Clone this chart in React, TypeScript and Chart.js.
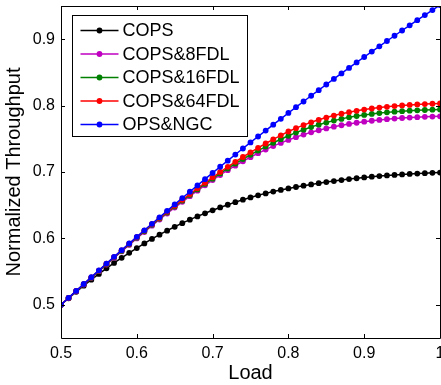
import React, { useEffect, useRef } from "react";
import { Chart, registerables } from "chart.js";

Chart.register(...registerables);

const loads = [
  0.5, 0.51, 0.52, 0.53, 0.54, 0.55, 0.56, 0.57, 0.58, 0.59,
  0.6, 0.61, 0.62, 0.63, 0.64, 0.65, 0.66, 0.67, 0.68, 0.69,
  0.7, 0.71, 0.72, 0.73, 0.74, 0.75, 0.76, 0.77, 0.78, 0.79,
  0.8, 0.81, 0.82, 0.83, 0.84, 0.85, 0.86, 0.87, 0.88, 0.89,
  0.9, 0.91, 0.92, 0.93, 0.94, 0.95, 0.96, 0.97, 0.98, 0.99, 1.0,
];

const cops = [
  0.5, 0.5099, 0.5195, 0.5288, 0.5378, 0.5465, 0.5549, 0.563, 0.5708, 0.5783,
  0.5855, 0.5925, 0.5992, 0.6056, 0.6117, 0.6175, 0.623, 0.6282, 0.6331, 0.6378,
  0.6423, 0.6466, 0.6507, 0.6546, 0.6583, 0.6617, 0.6649, 0.6678, 0.6705, 0.673,
  0.6753, 0.6774, 0.6794, 0.6813, 0.6831, 0.6848, 0.6864, 0.6879, 0.6893, 0.6906,
  0.6918, 0.6929, 0.6939, 0.6948, 0.6956, 0.6964, 0.6971, 0.6977, 0.6982, 0.6987, 0.6991,
];

const cops8 = [
  0.5, 0.5102, 0.5204, 0.5305, 0.5406, 0.5506, 0.5606, 0.5705, 0.5804, 0.5902,
  0.6, 0.6096, 0.6191, 0.6284, 0.6375, 0.6464, 0.6551, 0.6636, 0.6719, 0.68,
  0.6879, 0.6955, 0.7027, 0.7096, 0.7162, 0.7224, 0.7283, 0.7338, 0.739, 0.7438,
  0.7483, 0.7525, 0.7563, 0.7598, 0.7629, 0.7657, 0.7682, 0.7704, 0.7724, 0.7742,
  0.7758, 0.7772, 0.7784, 0.7795, 0.7805, 0.7813, 0.782, 0.7826, 0.7831, 0.7835, 0.7838,
];

const cops16 = [
  0.5, 0.5103, 0.5206, 0.5308, 0.541, 0.5511, 0.5612, 0.5712, 0.5812, 0.5912,
  0.6011, 0.6108, 0.6204, 0.6298, 0.639, 0.648, 0.6568, 0.6654, 0.6738, 0.682,
  0.69, 0.6978, 0.7053, 0.7125, 0.7194, 0.726, 0.7323, 0.7383, 0.744, 0.7494,
  0.7545, 0.7593, 0.7637, 0.7677, 0.7713, 0.7745, 0.7774, 0.78, 0.7823, 0.7843,
  0.786, 0.7874, 0.7887, 0.7898, 0.7908, 0.7916, 0.7923, 0.7929, 0.7934, 0.7938, 0.7941,
];

const cops64 = [
  0.5, 0.5104, 0.5208, 0.5311, 0.5414, 0.5516, 0.5618, 0.5719, 0.582, 0.592,
  0.602, 0.6118, 0.6214, 0.6309, 0.6402, 0.6493, 0.6582, 0.6669, 0.6754, 0.6838,
  0.692, 0.7, 0.7078, 0.7153, 0.7226, 0.7296, 0.7364, 0.7429, 0.7492, 0.7552,
  0.761, 0.766, 0.7706, 0.7748, 0.7786, 0.782, 0.785, 0.7877, 0.7901, 0.7922,
  0.794, 0.7956, 0.797, 0.7982, 0.7993, 0.8002, 0.801, 0.8017, 0.8023, 0.8028, 0.8032,
];

const opsNgc = [
  0.5, 0.5105, 0.5209, 0.5313, 0.5416, 0.5519, 0.5621, 0.5722, 0.5823, 0.5923,
  0.6023, 0.6122, 0.622, 0.6318, 0.6415, 0.6512, 0.6608, 0.6703, 0.6798, 0.6892,
  0.6986, 0.7079, 0.7171, 0.7263, 0.7354, 0.7445, 0.7535, 0.7624, 0.7713, 0.7801,
  0.7889, 0.7976, 0.8062, 0.8148, 0.8233, 0.8318, 0.8402, 0.8485, 0.8568, 0.865,
  0.8732, 0.8813, 0.8893, 0.8973, 0.9052, 0.9131, 0.9209, 0.9286, 0.9363, 0.9439, 0.9515,
];

const seriesNames = ["COPS", "COPS&8FDL", "COPS&16FDL", "COPS&64FDL", "OPS&NGC"];
const seriesValues = [cops, cops8, cops16, cops64, opsNgc];
const seriesColors = ["#000000", "#c000c0", "#008000", "#ff0000", "#0000ff"];

const xTicks = [0.5, 0.6, 0.7, 0.8, 0.9, 1.0];
const yTicks = [0.5, 0.6, 0.7, 0.8, 0.9];

const FONT = "'Liberation Sans', Arial, Helvetica, sans-serif";

const boxPlugin = {
  id: "matlabBox",
  afterDatasetsDraw(chart: any) {
    const { ctx, chartArea } = chart;
    const { left, right, top, bottom } = chartArea;
    const xs = chart.scales.x;
    const ys = chart.scales.y;
    ctx.save();
    ctx.strokeStyle = "#000";
    ctx.lineWidth = 1;
    ctx.beginPath();
    ctx.rect(Math.round(left) + 0.5, Math.round(top) + 0.5, Math.round(right - left), Math.round(bottom - top));
    ctx.stroke();
    const tl = 4;
    ctx.beginPath();
    xTicks.forEach((v) => {
      const px = Math.round(xs.getPixelForValue(v)) + 0.5;
      ctx.moveTo(px, bottom);
      ctx.lineTo(px, bottom - tl);
      ctx.moveTo(px, top);
      ctx.lineTo(px, top + tl);
    });
    yTicks.forEach((v) => {
      const py = Math.round(ys.getPixelForValue(v)) + 0.5;
      ctx.moveTo(left, py);
      ctx.lineTo(left + tl, py);
      ctx.moveTo(right, py);
      ctx.lineTo(right - tl, py);
    });
    ctx.stroke();

    // legend box
    const bx = Math.round(left) + 11 + 0.5;
    const by = Math.round(top) + 9 + 0.5;
    const bw = 175;
    const bh = 121;
    ctx.fillStyle = "#fff";
    ctx.fillRect(bx, by, bw, bh);
    ctx.strokeRect(bx, by, bw, bh);
    ctx.font = `18px ${FONT}`;
    ctx.textBaseline = "middle";
    ctx.textAlign = "left";
    chart.data.datasets.forEach((ds: any, i: number) => {
      const ry = by + 15 + i * 23.5;
      ctx.strokeStyle = ds.borderColor;
      ctx.lineWidth = 1.5;
      ctx.beginPath();
      ctx.moveTo(bx + 8, ry);
      ctx.lineTo(bx + 46, ry);
      ctx.stroke();
      ctx.fillStyle = ds.borderColor;
      ctx.beginPath();
      ctx.arc(bx + 27, ry, 2.9, 0, Math.PI * 2);
      ctx.fill();
      ctx.fillStyle = "#000";
      ctx.fillText(ds.label, bx + 50, ry + 1);
    });
    ctx.restore();
  },
};

export default function App() {
  const ref = useRef<HTMLCanvasElement | null>(null);
  useEffect(() => {
    if (!ref.current) return;
    const datasets = seriesNames.map((name, i) => ({
      label: name,
      data: loads.map((x, j) => ({ x, y: seriesValues[i][j] })),
      borderColor: seriesColors[i],
      backgroundColor: seriesColors[i],
      pointBackgroundColor: seriesColors[i],
      pointBorderWidth: 0,
      pointRadius: 2.9,
      borderWidth: 1.5,
      tension: 0,
      order: seriesNames.length - 1 - i,
    }));
    const chart = new Chart(ref.current, {
      type: "line",
      data: { datasets },
      plugins: [boxPlugin],
      options: {
        animation: false,
        responsive: false,
        maintainAspectRatio: false,
        layout: { padding: { top: 6, right: 5, left: 0, bottom: 0 } },
        plugins: { legend: { display: false }, tooltip: { enabled: false } },
        scales: {
          x: {
            type: "linear",
            min: 0.5,
            max: 1,
            afterBuildTicks: (s: any) => {
              s.ticks = xTicks.map((v) => ({ value: v }));
            },
            afterFit: (s: any) => {
              s.height = 47;
              s.paddingLeft = 0;
              s.paddingRight = 0;
            },
            grid: { display: false, drawTicks: false },
            border: { display: false },
            ticks: {
              color: "#000",
              font: { family: FONT, size: 16 },
              padding: 6,
              maxRotation: 0,
              callback: (v: any) => String(Number(Number(v).toFixed(2))),
            },
            title: {
              display: true,
              text: "Load",
              color: "#000",
              font: { family: FONT, size: 20 },
              padding: { top: 0, bottom: 0 },
            },
          },
          y: {
            type: "linear",
            min: 0.45,
            max: 0.95,
            afterBuildTicks: (s: any) => {
              s.ticks = yTicks.map((v) => ({ value: v }));
            },
            afterFit: (s: any) => {
              s.width = 61;
              s.paddingTop = 0;
              s.paddingBottom = 0;
            },
            grid: { display: false, drawTicks: false },
            border: { display: false },
            ticks: {
              color: "#000",
              font: { family: FONT, size: 16 },
              padding: 6,
              callback: (v: any) => String(Number(Number(v).toFixed(2))),
            },
            title: {
              display: true,
              text: "Normalized Throughput",
              color: "#000",
              font: { family: FONT, size: 20 },
              padding: { top: 2, bottom: 0 },
            },
          },
        },
      },
    });
    return () => chart.destroy();
  }, []);
  return (
    <div style={{ position: "fixed", left: 0, top: 0, width: 441, height: 385, overflow: "hidden", background: "#fff" }}>
      <canvas ref={ref} width={445} height={385} style={{ display: "block", width: 445, height: 385 }} />
    </div>
  );
}
